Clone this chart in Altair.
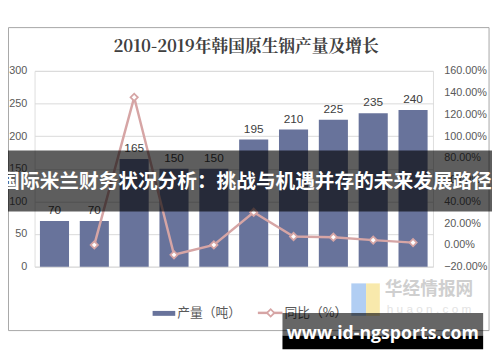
import altair as alt
import pandas as pd

years = ["2010年", "2011年", "2012年", "2013年", "2014年", "2015年", "2016年", "2017年", "2018年", "2019年"]
output = [70, 70, 165, 150, 150, 195, 210, 225, 235, 240]
growth_years = years[1:]
growth = [0.0, 1.357, -0.091, 0.0, 0.30, 0.077, 0.071, 0.044, 0.021]
left_ticks = [0, 50, 100, 150, 200, 250, 300]
right_ticks = [-0.2, 0, 0.2, 0.4, 0.6, 0.8, 1.0, 1.2, 1.4, 1.6]

title_text = "2010-2019年韩国原生铟产量及增长"
legend_bar = "产量（吨）"
legend_line = "同比（%）"
overlay_text = "国际米兰财务状况分析：挑战与机遇并存的未来发展路径"
site_text = "www.id-ngsports.com"

FONT = "Liberation Sans"
CJK = "Noto Sans CJK SC"
BAR = "#68739b"
PINK = "#d6a5a5"
GRAY = "#595959"

bars_df = pd.DataFrame({"year": years, "output": output})
line_df = pd.DataFrame({"year": growth_years, "growth": growth})
one = pd.DataFrame({"a": [0]})

xscale = alt.Scale(domain=years, paddingInner=0.27, paddingOuter=0.135)
xenc = alt.X("year:N", sort=years, title=None, scale=xscale,
             axis=alt.Axis(labelAngle=0, labelColor=GRAY, labelFontSize=11, labelFont=FONT,
                           domainColor="#bfbfbf", tickColor="#bfbfbf", gridOpacity=0,
                           tickSize=5, tickBand="extent", labelPadding=4))
x_plain = alt.X("year:N", sort=years, scale=xscale, axis=None)

lscale = alt.Scale(domain=[0, 300], nice=False, zero=True)
rscale = alt.Scale(domain=[-0.2, 1.6], nice=False, zero=False)

bars = alt.Chart(bars_df).mark_bar(color=BAR).encode(
    x=xenc,
    y=alt.Y("output:Q", title=None, scale=lscale,
            axis=alt.Axis(orient="left", values=left_ticks, grid=True, gridColor="#d9d9d9",
                          domain=False, domainOpacity=0, ticks=False, tickSize=0, tickOpacity=0,
                          labelColor=GRAY, labelFontSize=11, labelFont=FONT,
                          labelPadding=8, labelOverlap=False)))

bar_labels = alt.Chart(bars_df).mark_text(baseline="bottom", dy=-4, fontSize=12,
                                          color="#404040", font=FONT).encode(
    x=x_plain,
    y=alt.Y("output:Q", scale=lscale, axis=None),
    text=alt.Text("output:Q"))

line = alt.Chart(line_df).mark_line(color=PINK, strokeWidth=2.5).encode(
    x=x_plain,
    y=alt.Y("growth:Q", title=None, scale=rscale,
            axis=alt.Axis(orient="right", values=right_ticks, format=".2%", grid=False,
                          gridOpacity=0, domain=False, domainOpacity=0, ticks=False,
                          tickSize=0, tickOpacity=0, labelColor=GRAY, labelFontSize=11,
                          labelFont=FONT, labelPadding=11, labelOverlap=False)))
pts = alt.Chart(line_df).mark_point(shape="diamond", filled=True, fill="white",
                                    stroke=PINK, strokeWidth=1.8, size=55, opacity=1).encode(
    x=x_plain, y=alt.Y("growth:Q", scale=rscale, axis=None))

frame = alt.Chart(one).mark_rect(fillOpacity=0, stroke="#a6a6a6", strokeWidth=1).encode(
    x=alt.value(-26.5), x2=alt.value(462), y=alt.value(-44), y2=alt.value(264))

title = alt.Chart(one).mark_text(text=title_text, fontSize=17, fontWeight="bold",
                                 font="Noto Serif CJK SC", color="#404040").encode(
    x=alt.value(215), y=alt.value(-24))

leg_rect = alt.Chart(one).mark_rect(color=BAR).encode(
    x=alt.value(120), x2=alt.value(143), y=alt.value(244), y2=alt.value(249))
leg_t1 = alt.Chart(one).mark_text(text=legend_bar, align="left", fontSize=13, font=CJK,
                                  color=GRAY).encode(x=alt.value(145), y=alt.value(246))
leg_line = alt.Chart(one).mark_rule(color=PINK, strokeWidth=2.5).encode(
    x=alt.value(227), x2=alt.value(252), y=alt.value(246))
leg_pt = alt.Chart(one).mark_point(shape="diamond", filled=True, fill="white", stroke=PINK,
                                   strokeWidth=1.8, size=55, opacity=1).encode(
    x=alt.value(240), y=alt.value(246))
leg_t2 = alt.Chart(one).mark_text(text=legend_line, align="left", fontSize=13, font=CJK,
                                  color=GRAY).encode(x=alt.value(254), y=alt.value(246))

logo_b = alt.Chart(one).mark_rect(color="#a9c9f2", opacity=0.9).encode(
    x=alt.value(322), x2=alt.value(337), y=alt.value(216), y2=alt.value(249))
logo_y = alt.Chart(one).mark_rect(color="#f7e7a3", opacity=0.9).encode(
    x=alt.value(337), x2=alt.value(351), y=alt.value(216), y2=alt.value(249))
wm1 = alt.Chart(one).mark_text(text="华经情报网", fontSize=18, fontWeight="bold", font=CJK,
                               color="#cfcfcf").encode(x=alt.value(401), y=alt.value(223))
wm2 = alt.Chart(one).mark_text(text="h u a o n . c o m", fontSize=12, font=FONT,
                               color="#e3e3e3").encode(x=alt.value(401), y=alt.value(242))

band = alt.Chart(one).mark_rect(color="black", opacity=0.63).encode(
    x=alt.value(-40), x2=alt.value(470), y=alt.value(81), y2=alt.value(143))
band_t = alt.Chart(one).mark_text(text=overlay_text, fontSize=20, fontWeight="bold",
                                  font=CJK, color="white").encode(
    x=alt.value(215), y=alt.value(113))

box1 = alt.Chart(one).mark_rect(color="black", opacity=0.6).encode(
    x=alt.value(252), x2=alt.value(456), y=alt.value(246), y2=alt.value(269))
box2 = alt.Chart(one).mark_rect(color="black").encode(
    x=alt.value(252), x2=alt.value(456), y=alt.value(269), y2=alt.value(283))
box_t = alt.Chart(one).mark_text(text=site_text, fontSize=18, fontWeight="bold",
                                 font="Open Sans", color="white").encode(
    x=alt.value(354), y=alt.value(268))

chart = alt.layer(
    bars, bar_labels, line, pts, frame, title, leg_rect, leg_t1, leg_line, leg_pt, leg_t2,
    logo_b, logo_y, wm1, wm2, band, band_t, box1, box2, box_t
).resolve_scale(y="independent").properties(
    width=405, height=199,
    autosize=alt.AutoSizeParams(type="none"),
    padding={"left": 27, "top": 61, "right": 60, "bottom": 94},
).configure_view(strokeWidth=0, stroke="transparent").configure(background="white")

chart.save("out.html", embed_options={"renderer": "svg", "actions": False})
